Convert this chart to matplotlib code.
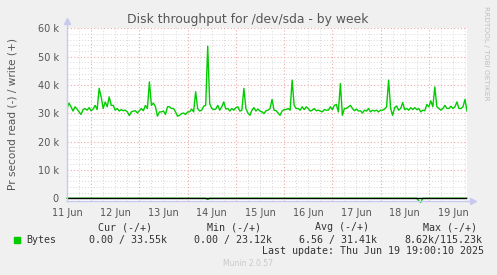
import numpy as np
import matplotlib
matplotlib.use("Agg")
import matplotlib.pyplot as plt
from matplotlib.ticker import FixedLocator

# ---- data (hours relative to 12 Jun 00:00; values in thousands of bytes/s) ----
start_hour = -12
write_k = [
    31.7, 33.6, 32.3, 30.8, 32.3, 31.5, 30.5, 29.6, 31.3, 31.7, 31.1, 32.0,   # -12..-1
    30.9, 31.5, 32.8, 31.3, 38.8, 35.8, 31.7, 34.0, 32.3, 35.8, 32.8, 32.8,   # 0..11
    31.1, 31.7, 30.8, 31.3, 30.9, 31.1, 30.5, 29.2, 30.5, 30.8, 30.9, 30.1,   # 12..23
    30.9, 31.7, 30.9, 32.8, 31.7, 41.1, 32.8, 33.6, 32.3, 29.0, 30.5, 30.5,   # 24..35
    30.8, 29.6, 32.3, 32.3, 31.7, 31.7, 30.5, 29.0, 29.3, 29.9, 30.1, 29.6,   # 36..47
    30.5, 30.5, 31.5, 30.5, 37.6, 31.7, 30.8, 31.1, 32.5, 32.8, 53.7, 33.4,   # 48..59
    31.7, 31.3, 31.5, 32.8, 31.1, 32.3, 34.0, 31.5, 31.7, 30.8, 31.7, 31.1,   # 60..71
    32.0, 32.3, 30.8, 31.1, 38.8, 31.7, 30.1, 29.3, 31.1, 32.0, 30.8, 31.5,   # 72..83
    30.8, 30.5, 29.9, 30.9, 31.1, 31.7, 34.9, 31.1, 30.9, 30.1, 29.3, 30.8,   # 84..95
    31.3, 31.3, 31.7, 31.1, 41.7, 32.8, 31.7, 31.7, 31.1, 32.3, 31.3, 32.3,   # 96..107
    31.7, 30.8, 31.1, 31.7, 30.9, 31.1, 30.8, 30.5, 31.3, 31.1, 31.1, 32.3,   # 108..119
    31.3, 32.8, 33.1, 30.5, 40.5, 29.3, 31.7, 31.7, 32.3, 32.8, 31.7, 30.9,   # 120..131
    31.5, 30.8, 30.9, 30.1, 31.1, 30.8, 31.7, 30.5, 31.1, 30.8, 31.1, 30.5,   # 132..143
    31.1, 31.1, 31.5, 32.3, 41.7, 31.7, 29.3, 32.0, 32.6, 31.1, 31.7, 33.8,   # 144..155
    31.3, 31.7, 31.1, 32.0, 31.3, 32.0, 31.3, 31.7, 30.5, 31.1, 30.9, 33.1,   # 156..167
    32.3, 34.4, 32.3, 39.3, 32.3, 31.7, 31.1, 31.7, 32.8, 31.7, 31.7, 32.5,   # 168..179
    31.7, 32.3, 34.0, 31.7, 31.7, 32.3, 34.9, 30.8,                           # 180..187
]
# read (-) series: zero everywhere except these hours
read_dip_hours = [58, 163, 164]
read_dip_k = [-0.4, -0.9, -1.4]

day_labels = ["11 Jun", "12 Jun", "13 Jun", "14 Jun", "15 Jun",
              "16 Jun", "17 Jun", "18 Jun", "19 Jun"]
y_ticks_k = [0, 10, 20, 30, 40, 50, 60]

legend_headers = ["Cur (-/+)", "Min (-/+)", "Avg (-/+)", "Max (-/+)"]
legend_values = ["0.00 / 33.55k", "0.00 / 23.12k", "6.56 / 31.41k", "8.62k/115.23k"]
series_name = "Bytes"
last_update = "Last update: Thu Jun 19 19:00:10 2025"

# ---- build series ----
hours = start_hour + np.arange(len(write_k))
write = np.array(write_k) * 1000.0
read = np.zeros(len(write_k))
for h, v in zip(read_dip_hours, read_dip_k):
    read[h - start_hour] = v * 1000.0

W, H = 497, 275
fig = plt.figure(figsize=(W / 100, H / 100), dpi=100)
fig.patch.set_facecolor("#F0F0F0")

ax_l, ax_r, ax_t, ax_b = 67, 467, 28.3, 201
ax = fig.add_axes([ax_l / W, (H - ax_b) / H, (ax_r - ax_l) / W, (ax_b - ax_t) / H])
ax.set_facecolor("white")

ax.set_xlim(-12, 187)
ax.set_ylim(-950, 60000)

# grid
major_col = "#F0A8A8"
minor_col = "#D8D8D8"
dot = (0, (1, 2))
for h in range(-6, 188, 6):
    if h % 24 == 0:
        continue
    ax.axvline(h, color=minor_col, lw=0.7, ls=dot, zorder=1)
for h in range(0, 188, 24):
    ax.axvline(h, color=major_col, lw=0.8, ls=dot, zorder=1)
for y in range(2000, 60001, 2000):
    if y % 10000 == 0:
        continue
    ax.axhline(y, color=minor_col, lw=0.7, ls=dot, zorder=1)
for y in range(10000, 60001, 10000):
    ax.axhline(y, color=major_col, lw=0.8, ls=dot, zorder=1)

# data
ax.plot(hours, write, color="#00CC00", lw=1.0, zorder=3)
ax.plot(hours, read, color="#00CC00", lw=1.0, zorder=3, clip_on=False)
ax.axhline(0, color="black", lw=1.0, zorder=4)

# spines / axis arrows
for s in ax.spines.values():
    s.set_visible(False)
axis_col = "#C8C8F0"
ax.plot([0, 0], [0, 1.04], color=axis_col, lw=1.0, transform=ax.transAxes, clip_on=False, zorder=6)
ax.plot([0, 1.015], [0, 0], color=axis_col, lw=1.0, transform=ax.transAxes, clip_on=False, zorder=6)
ax.plot([0], [1.04], marker="^", ms=4, color=axis_col, transform=ax.transAxes, clip_on=False, zorder=6)
ax.plot([1.015], [0], marker=">", ms=4, color=axis_col, transform=ax.transAxes, clip_on=False, zorder=6)

# ticks
ax.xaxis.set_major_locator(FixedLocator([-12 + 24 * i for i in range(len(day_labels))]))
ax.set_xticklabels(day_labels)
ax.yaxis.set_major_locator(FixedLocator([v * 1000 for v in y_ticks_k]))
ax.set_yticklabels(["0" if v == 0 else f"{v} k" for v in y_ticks_k])
ax.tick_params(axis="both", length=0, labelsize=7, colors="#555555")
ax.tick_params(axis="x", pad=5)
ax.tick_params(axis="y", pad=6)

# texts
fig.text(248 / W, 1 - 19 / H, "Disk throughput for /dev/sda - by week",
         ha="center", va="center", fontsize=8.9, color="#555555")
fig.text(13 / W, 1 - 114 / H, "Pr second read (-) / write (+)", rotation=90,
         ha="center", va="center", fontsize=7.6, color="#555555")
fig.text(486 / W, 1 - 6 / H, "RRDTOOL / TOBI OETIKER", rotation=270,
         ha="center", va="top", fontsize=5.3, color="#C0C0C0")

mono = "DejaVu Sans Mono"
lfs = 7.2
tcol = "#333333"
for x, s in zip([98, 207, 315, 423], legend_headers):
    fig.text(x / W, 1 - 227.5 / H, s, ha="left", va="center", family=mono, fontsize=lfs, color=tcol)
fig.text(26 / W, 1 - 240 / H, series_name, ha="left", va="center", family=mono, fontsize=lfs, color=tcol)
for x, s in zip([89, 194, 299, 404], legend_values):
    fig.text(x / W, 1 - 240 / H, s, ha="left", va="center", family=mono, fontsize=lfs, color=tcol)
fig.text(262 / W, 1 - 251.5 / H, last_update, ha="left", va="center", family=mono, fontsize=lfs, color=tcol)
fig.patches.append(plt.Rectangle((14 / W, 1 - 243 / H), 6 / W, 6 / H,
                                 transform=fig.transFigure, color="#00CC00"))
fig.text(248 / W, 1 - 264 / H, "Munin 2.0.57", ha="center", va="center",
         fontsize=5.5, color="#C8C8C8")

fig.savefig("out.png", dpi=100, facecolor=fig.get_facecolor())
